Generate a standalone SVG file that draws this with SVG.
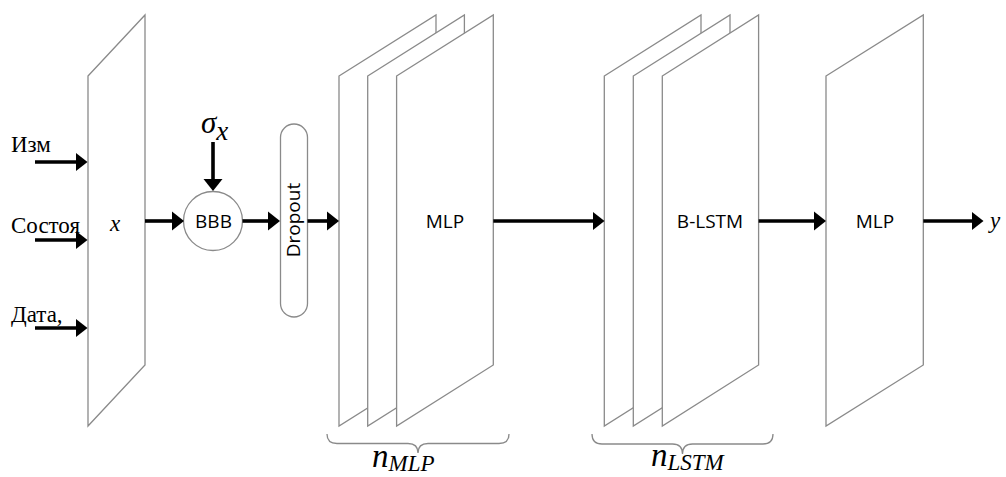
<svg xmlns="http://www.w3.org/2000/svg" width="1006" height="477" viewBox="0 0 1006 477">
<defs>
<style>
.panel{fill:#fff;stroke:#8a8a8a;stroke-width:1.3;stroke-linejoin:miter}
.shape{fill:#fff;stroke:#8a8a8a;stroke-width:1.3}
.brace{fill:none;stroke:#8a8a8a;stroke-width:1.3}
.conn{fill:none;stroke:#000;stroke-width:3.6;marker-end:url(#ah)}
.lbl{font-family:"Open Sans","Liberation Sans",sans-serif;font-size:19px;fill:#000;text-anchor:middle}
.ru{font-family:"Liberation Serif","Times New Roman",serif;font-size:23px;fill:#000}
.math{font-family:"Liberation Serif","Times New Roman",serif;font-style:italic;fill:#000}
</style>
<marker id="ah" markerUnits="userSpaceOnUse" markerWidth="13" markerHeight="20" refX="4" refY="10" orient="auto">
<path d="M0,0.5 L12,10 L0,19.5 z" fill="#000"/>
</marker>
</defs>
<rect width="1006" height="477" fill="#fff"/>

<g id="input-layer">
<polygon class="panel" points="88,76 145,15 145,365 88,426"/>
<text class="math" x="110" y="231" font-size="23">x</text>
</g>

<g id="input-labels">
<text class="ru" x="11" y="152">Изм</text>
<text class="ru" x="11" y="233">Состоя</text>
<text class="ru" x="11" y="322">Дата,</text>
</g>

<g id="sigma">
<text class="math" x="201" y="133" font-size="31">σ<tspan font-size="27" dy="7">x</tspan></text>
</g>

<g id="bbb">
<circle class="shape" cx="213" cy="221" r="29.5"/>
<text class="lbl" x="213.5" y="228">BBB</text>
</g>

<g id="dropout">
<rect class="shape" x="280.5" y="124" width="27" height="193" rx="13.5" ry="13.5"/>
<text class="lbl" transform="translate(299.5,220) rotate(-90)" x="0" y="0">Dropout</text>
</g>

<g id="mlp-stack">
<polygon class="panel" points="339,76 436,15 436,365 339,426"/>
<polygon class="panel" points="367.7,76 464.4,15 464.4,365 367.7,426"/>
<polygon class="panel" points="396.6,76 493.3,15 493.3,365 396.6,426"/>
<text class="lbl" x="445" y="228">MLP</text>
</g>

<g id="blstm-stack">
<polygon class="panel" points="604.3,76 701,15 701,365 604.3,426"/>
<polygon class="panel" points="633.3,76 730,15 730,365 633.3,426"/>
<polygon class="panel" points="662.3,76 758.6,15 758.6,365 662.3,426"/>
<text class="lbl" x="710" y="228">B-LSTM</text>
</g>

<g id="mlp-out">
<polygon class="panel" points="826,76 923.3,15 923.3,365 826,426"/>
<text class="lbl" x="875" y="228">MLP</text>
</g>

<g id="output">
<text class="math" x="990" y="228" font-size="23">y</text>
</g>

<g id="brace-mlp">
<path class="brace" d="M327,434 Q327,443.5 337,443.5 L408,443.5 Q418,443.5 418,453 Q418,443.5 428,443.5 L499,443.5 Q509,443.5 509,434"/>
<text class="math" x="372" y="467" font-size="33">n<tspan font-size="23" dy="4">MLP</tspan></text>
</g>

<g id="brace-lstm">
<path class="brace" d="M592,434 Q592,444 602,444 L672.5,444 Q682.5,444 682.5,454 Q682.5,444 692.5,444 L763,444 Q773,444 773,434"/>
<text class="math" x="651" y="466" font-size="33">n<tspan font-size="23" dy="4">LSTM</tspan></text>
</g>

<g id="connectors">
<path class="conn" d="M35,162 H79.5"/>
<path class="conn" d="M35,240 H79.5"/>
<path class="conn" d="M35,328 H79.5"/>
<path class="conn" d="M145,221 H176"/>
<path class="conn" d="M213,142 V183"/>
<path class="conn" d="M242.5,221 H272"/>
<path class="conn" d="M307.5,221 H331"/>
<path class="conn" d="M493.3,221 H596.5"/>
<path class="conn" d="M758.6,221 H818"/>
<path class="conn" d="M923.3,221 H975.5"/>
</g>
</svg>
